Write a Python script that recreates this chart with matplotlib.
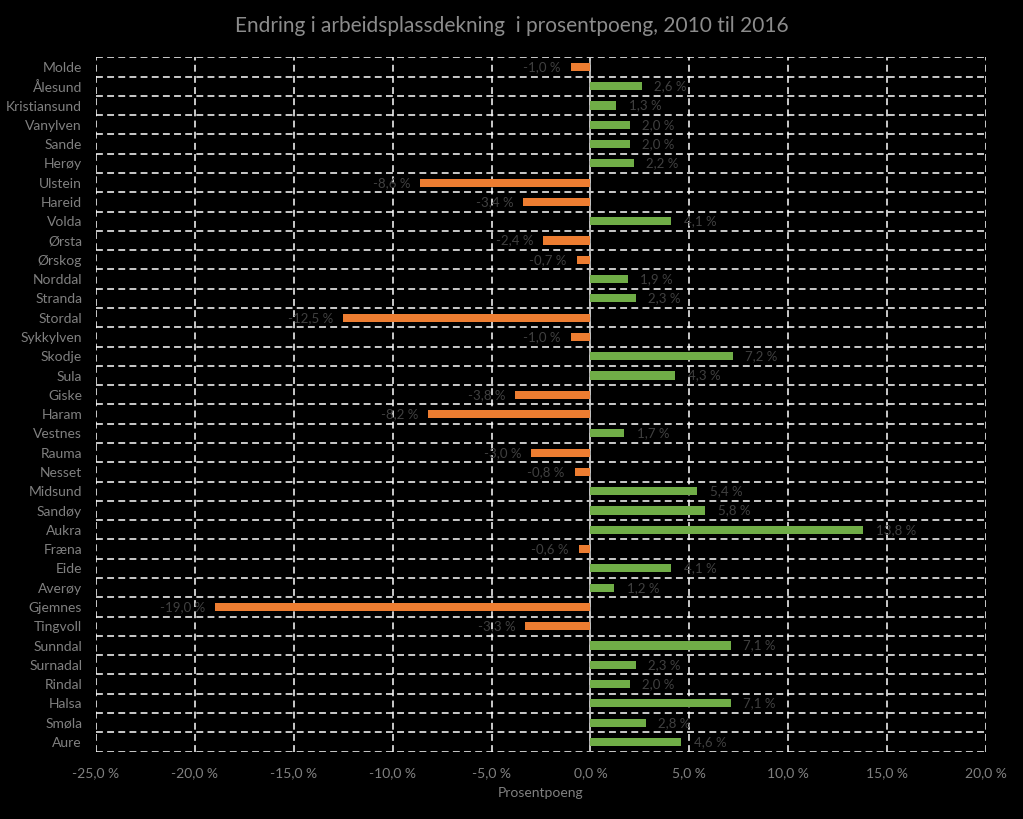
import numpy as np
import matplotlib
matplotlib.use('Agg')
from matplotlib import pyplot as plt
from matplotlib.ticker import FixedLocator

plt.rcParams['font.family'] = ['Lato', 'DejaVu Sans']

kommuner = ['Molde', 'Ålesund', 'Kristiansund', 'Vanylven', 'Sande', 'Herøy',
            'Ulstein', 'Hareid', 'Volda', 'Ørsta', 'Ørskog', 'Norddal', 'Stranda',
            'Stordal', 'Sykkylven', 'Skodje', 'Sula', 'Giske', 'Haram', 'Vestnes',
            'Rauma', 'Nesset', 'Midsund', 'Sandøy', 'Aukra', 'Fræna', 'Eide',
            'Averøy', 'Gjemnes', 'Tingvoll', 'Sunndal', 'Surnadal', 'Rindal',
            'Halsa', 'Smøla', 'Aure']
endring = [-1.0, 2.6, 1.3, 2.0, 2.0, 2.2, -8.6, -3.4, 4.1, -2.4, -0.7, 1.9, 2.3,
           -12.5, -1.0, 7.2, 4.3, -3.8, -8.2, 1.7, -3.0, -0.8, 5.4, 5.8, 13.8,
           -0.6, 4.1, 1.2, -19.0, -3.3, 7.1, 2.3, 2.0, 7.1, 2.8, 4.6]
xticks = [-25, -20, -15, -10, -5, 0, 5, 10, 15, 20]

fig = plt.figure(figsize=(10.23, 8.19), dpi=100, facecolor='black')
ax = fig.add_axes([0.0938, 0.0823, 0.8700, 0.8477], facecolor='black')

y = np.arange(len(kommuner))
farger = ['#70AD47' if v >= 0 else '#ED7D31' for v in endring]
bars = ax.barh(y, endring, height=0.42, color=farger, zorder=3)

# data labels
for b, v in zip(bars, endring):
    tekst = f'{v:.1f} %'.replace('.', ',')
    yc = b.get_y() + b.get_height() / 2
    if v >= 0:
        ax.annotate(tekst, (v, yc), xytext=(9, 0), textcoords='offset points',
                    ha='left', va='center', fontsize=9.5, color='#404040', zorder=4)
    else:
        ax.annotate(tekst, (v, yc), xytext=(-7, 0), textcoords='offset points',
                    ha='right', va='center', fontsize=9.5, color='#404040', zorder=4)

ax.set_xlim(-25, 20)
ax.set_ylim(len(kommuner) - 0.5, -0.5)
ax.set_xticks(xticks)
ax.set_xticklabels([f'{t:.1f} %'.replace('.', ',') for t in xticks])
ax.set_yticks(y)
ax.set_yticklabels(kommuner, fontsize=9.7)
ax.yaxis.set_minor_locator(FixedLocator(np.arange(-0.5, len(kommuner), 1)))

dash = (0, (4.5, 2.8))
ax.grid(axis='x', which='major', color='white', linestyle=dash, linewidth=1.1, zorder=1)
ax.grid(axis='y', which='minor', color='white', linestyle=dash, linewidth=1.1, zorder=1)
ax.axvline(0, color='#BFBFBF', linewidth=1.3, zorder=2)

for s in ax.spines.values():
    s.set_visible(False)
ax.tick_params(which='both', length=0, colors='#808080', labelsize=10)
ax.tick_params(axis='x', pad=11)
ax.tick_params(axis='y', pad=10)

ax.set_xlabel('Prosentpoeng', color='#808080', fontsize=10, labelpad=6)
fig.text(0.5, 0.968, 'Endring i arbeidsplassdekning  i prosentpoeng, 2010 til 2016',
         ha='center', va='center', fontsize=15, color='#8C8C8C')

plt.savefig('out.png', dpi=100, facecolor='black')
